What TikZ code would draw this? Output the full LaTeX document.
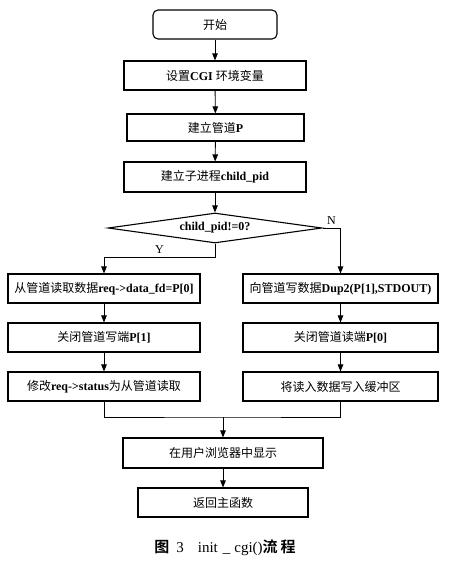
\documentclass[tikz,border=0pt]{standalone}
\usepackage{fontspec}
\setmainfont{Liberation Serif}
\newfontfamily\cjk[BoldFont=Noto Sans CJK SC]{Noto Sans CJK SC}
\newfontfamily\cjkbold{Noto Sans CJK SC Bold}
\usetikzlibrary{arrows.meta,shapes.geometric}

\begin{document}
\begin{tikzpicture}[x=1pt,y=-1pt,line width=0.9pt,>={Triangle[length=7pt,width=5.5pt]},
  box/.style={draw,line width=1.1pt,minimum height=29pt,inner sep=1pt,font=\fontsize{12}{14}\selectfont\bfseries},
  test/.style={draw,diamond,line width=1.1pt,shape aspect=7,inner sep=1pt,minimum width=214pt,minimum height=30pt,font=\fontsize{12}{14}\selectfont\bfseries}]
  \useasboundingbox (0,0) rectangle (448,561);
  % tronco comun
  \node[box,rounded corners=5pt,minimum width=124pt] (start) at (215,24.5){\cjk 开始};
  \node[box,minimum width=182pt] (env) at (215,75.5){{\cjk 设置}CGI {\cjk 环境变量}};
  \node[box,minimum width=177pt,minimum height=27pt] (pipe) at (215.5,127.5){{\cjk 建立管道}P};
  \node[box,minimum width=182pt,minimum height=30pt] (fork) at (215,177){{\cjk 建立子进程}child\_pid};
  \node[test] (isparent) at (215,228){child\_pid!=0?};
  % rama Y (padre)
  \node[box,minimum width=192pt] (read) at (104,288.5){{\cjk 从管道读取数据}req->data\_fd=P[0]};
  \node[box,minimum width=192pt] (closew) at (104,337.5){{\cjk 关闭管道写端}P[1]};
  \node[box,minimum width=192pt] (status) at (104,386.5){{\cjk 修改}req->status{\cjk 为从管道读取}};
  % rama N (hijo)
  \node[box,minimum width=195pt] (write) at (340.5,288.5){{\cjk 向管道写数据}Dup2(P[1],STDOUT)};
  \node[box,minimum width=195pt] (closer) at (340.5,337.5){{\cjk 关闭管道读端}P[0]};
  \node[box,minimum width=195pt] (buffer) at (340.5,386.5){\cjk 将读入数据写入缓冲区};
  % final
  \node[box,minimum width=200pt,minimum height=30pt] (show) at (223,453){\cjk 在用户浏览器中显示};
  \node[box,minimum width=170pt] (back) at (223,502.5){\cjk 返回主函数};
  \node[font=\fontsize{15}{17}\selectfont] (caption) at (225,548){{\cjkbold 图}\hspace{7pt}3\hspace{14pt}init\hspace{5pt}\_\hspace{4pt}cgi(){\cjkbold 流\hspace{3pt}程}};
  \coordinate (merge) at (223,417);
  \draw[->] (start) -- (env);
  \draw[->] (env) -- (pipe);
  \draw[->] (pipe) -- (fork);
  \draw[->] (fork) -- (isparent);
  \draw[->] (isparent.south) -- ++(0,14) -| node[pos=0.25,above,font=\fontsize{12}{14}\selectfont]{Y} (read.north);
  \draw[->] (isparent.east) -| node[pos=0.25,above,font=\fontsize{12}{14}\selectfont]{N} (write.north);
  \draw[->] (read) -- (closew);
  \draw[->] (closew) -- (status);
  \draw[->] (write) -- (closer);
  \draw[->] (closer) -- (buffer);
  \draw (status.south) |- (merge) -| (buffer.south);
  \draw[->] (merge) -- (show);
  \draw[->] (show) -- (back);
\end{tikzpicture}
\end{document}
